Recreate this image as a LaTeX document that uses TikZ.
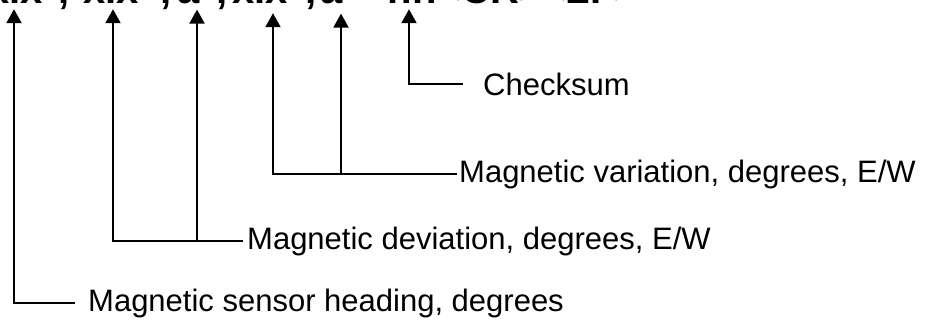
\documentclass[tikz,border=0pt]{standalone}
\usepackage{fontspec}
\setmainfont{Liberation Sans}
\usetikzlibrary{arrows.meta,positioning}

\begin{document}
\begin{tikzpicture}[x=1pt,y=-1pt]
	\tikzstyle{field}
	  =[inner sep=0pt, anchor=base, font=\fontsize{40}{44}\selectfont\bfseries]
	\tikzstyle{tag}
	  =[inner sep=0pt, font=\fontsize{31}{36}\selectfont]
	\tikzstyle{pointer}
	  =[line width=2pt, -{Triangle[width=15pt,length=14pt]}]

	\useasboundingbox (0,0) rectangle (935,322);
	\clip (0,0) rectangle (935,322);

	% sentence, cut at the top
	\node[field] (hdg) at (15,3) {x.x};
	\node[field] (c1) at (64,3) {,};
	\node[field] (dev) at (111,3) {x.x};
	\node[field] (c2) at (166,3) {,};
	\node[field] (devEW) at (189,3) {a};
	\node[field] (c3) at (222,3) {,};
	\node[field] (var) at (260,3) {x.x};
	\node[field] (c4) at (311,3) {,};
	\node[field,anchor=base west] (varEW) at (320,3) {a*};
	\node[field] (sum) at (412,3) {hh};
	\node[field] (crlf) at (538,3) {<CR><LF>};

	% elbows and line ends
	\coordinate (kHdg) at (14,303);
	\coordinate (kDev) at (113,241);
	\coordinate (kDevEW) at (197,241);
	\coordinate (kVar) at (273,174);
	\coordinate (kVarEW) at (341,174);
	\coordinate (kSum) at (409,84);
	\coordinate (eHdg) at (75,303);
	\coordinate (eDev) at (243,241);
	\coordinate (eVar) at (457,174);
	\coordinate (eSum) at (463,84);

	\node[tag] (lblSum)
	  [right=20pt of eSum] {Checksum};
	\node[tag] (lblVar)
	  [right=2pt of eVar] {Magnetic variation, degrees, E/W};
	\node[tag] (lblDev)
	  [right=4pt of eDev] {Magnetic deviation, degrees, E/W};
	\node[tag] (lblHdg)
	  [right=13pt of eHdg] {Magnetic sensor heading, degrees};

	\draw[pointer,shorten >=6pt] (eSum) -- (kSum) -- (kSum |- sum.south);
	\draw[pointer,shorten >=10pt] (eVar) -- (kVar) -- (kVar |- var.south);
	\draw[pointer,shorten >=10pt] (kVarEW) -- (kVarEW |- varEW.south);
	\draw[pointer,shorten >=6pt] (eDev) -- (kDev) -- (kDev |- dev.south);
	\draw[pointer,shorten >=6pt] (kDevEW) -- (kDevEW |- devEW.south);
	\draw[pointer,shorten >=6pt] (eHdg) -- (kHdg) -- (kHdg |- hdg.south);
\end{tikzpicture}
\end{document}
